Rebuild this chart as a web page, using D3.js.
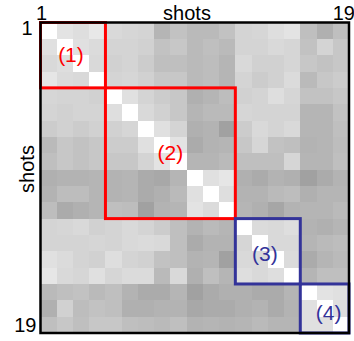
<!DOCTYPE html>
<html>
<head>
<meta charset="utf-8">
<script src="https://cdn.jsdelivr.net/npm/d3@7"></script>
<style>
  html, body { margin: 0; padding: 0; background: #fff; }
  svg { display: block; font-family: "Liberation Sans", Arial, sans-serif; }
</style>
</head>
<body>
<svg id="chart" width="354" height="341"></svg>
<script>
// shot indices on both axes
const shots = d3.range(1, 20);
const tickLabels = ["1", "19"];
const axisTitle = "shots";

// shot-to-shot similarity (percent), row = shot i, column = shot j
const similarity = [
  [100, 89, 87, 91, 85, 84, 83, 71, 76, 73, 73, 76, 83, 84, 87, 89, 75, 69, 75],
  [88, 100, 88, 86, 83, 83, 82, 76, 78, 73, 75, 73, 83, 83, 85, 84, 76, 83, 78],
  [85, 87, 100, 85, 82, 83, 80, 75, 75, 73, 74, 71, 85, 82, 82, 84, 78, 76, 78],
  [90, 86, 85, 100, 83, 84, 82, 78, 78, 73, 74, 71, 83, 80, 82, 86, 73, 78, 80],
  [84, 83, 83, 82, 100, 88, 83, 80, 78, 69, 71, 74, 82, 83, 87, 84, 76, 76, 78],
  [83, 82, 83, 83, 87, 100, 85, 82, 78, 71, 73, 73, 84, 83, 83, 83, 71, 71, 76],
  [80, 82, 80, 82, 82, 84, 100, 88, 83, 69, 70, 63, 80, 85, 83, 85, 71, 71, 75],
  [73, 78, 76, 78, 80, 80, 88, 100, 89, 67, 70, 71, 78, 84, 76, 75, 70, 71, 74],
  [75, 78, 76, 78, 78, 78, 83, 89, 100, 71, 71, 73, 75, 75, 75, 84, 71, 71, 75],
  [69, 70, 70, 71, 70, 71, 67, 66, 71, 100, 88, 90, 69, 67, 70, 69, 63, 67, 70],
  [70, 74, 74, 71, 70, 71, 67, 69, 73, 88, 100, 87, 70, 70, 73, 74, 69, 71, 71],
  [74, 67, 69, 71, 75, 74, 63, 70, 71, 89, 86, 100, 71, 69, 65, 70, 71, 71, 73],
  [83, 84, 85, 82, 83, 85, 83, 80, 75, 70, 73, 71, 100, 86, 85, 87, 70, 69, 71],
  [83, 83, 83, 84, 83, 85, 86, 85, 75, 67, 70, 70, 84, 100, 85, 85, 71, 73, 74],
  [88, 86, 83, 82, 87, 83, 82, 76, 75, 70, 71, 63, 85, 85, 100, 86, 67, 71, 73],
  [90, 85, 84, 88, 84, 86, 86, 73, 85, 69, 75, 71, 87, 85, 87, 100, 71, 75, 75],
  [73, 75, 76, 73, 75, 70, 67, 67, 71, 63, 67, 69, 69, 67, 67, 71, 100, 89, 88],
  [69, 82, 74, 76, 75, 69, 69, 70, 70, 66, 67, 67, 69, 70, 67, 70, 88, 100, 87],
  [75, 78, 75, 78, 78, 75, 74, 73, 75, 70, 71, 70, 71, 73, 71, 71, 88, 88, 100]
];

// scene groups: first and last shot of each, and its label
const sceneStart = [1, 5, 13, 17];
const sceneEnd = [4, 12, 16, 19];
const sceneLabels = ["(1)", "(2)", "(3)", "(4)"];

const sceneColor = ["#ff0000", "#ff0000", "#333399", "#333399"];
const labelNudge = [[-2, 1], [0, 0], [-3, 3], [4, 5]];
const margin = {top: 22.5, right: 5, bottom: 8, left: 40.5};
const width = 354, height = 341;

const svg = d3.select("#chart");

const x = d3.scaleBand()
    .domain(shots)
    .range([margin.left, width - margin.right]);
const y = d3.scaleBand()
    .domain(shots)
    .range([margin.top, height - margin.bottom]);
const grey = d3.scaleLinear()
    .domain([0, 100])
    .range(["#000000", "#ffffff"]);

const cells = [];
similarity.forEach((row, i) => {
    row.forEach((v, j) => cells.push({row: shots[i], col: shots[j], value: v}));
});

svg.append("g")
    .attr("shape-rendering", "crispEdges")
  .selectAll("rect")
    .data(cells)
  .enter().append("rect")
    .attr("x", d => x(d.col))
    .attr("y", d => y(d.row))
    .attr("width", x.bandwidth() + 0.5)
    .attr("height", y.bandwidth() + 0.5)
    .attr("fill", d => grey(d.value));

const scenes = sceneStart.map((s, i) => ({
    start: s, end: sceneEnd[i], label: sceneLabels[i],
    color: sceneColor[i], nudge: labelNudge[i]
}));

svg.append("g")
    .selectAll("rect")
    .data(scenes)
  .enter().append("rect")
    .attr("x", d => x(d.start))
    .attr("y", d => y(d.start))
    .attr("width", d => x(d.end) + x.bandwidth() - x(d.start))
    .attr("height", d => y(d.end) + y.bandwidth() - y(d.start))
    .attr("fill", "none")
    .attr("stroke", d => d.color)
    .attr("stroke-width", 3);

svg.append("g")
    .attr("text-anchor", "middle")
    .style("font-size", "21px")
  .selectAll("text")
    .data(scenes)
  .enter().append("text")
    .attr("x", d => (x(d.start) + x(d.end) + x.bandwidth()) / 2 + d.nudge[0])
    .attr("y", d => (y(d.start) + y(d.end) + y.bandwidth()) / 2 + d.nudge[1])
    .attr("dy", "0.3em")
    .attr("fill", d => d.color)
    .text(d => d.label);

// frame
svg.append("rect")
    .attr("x", margin.left)
    .attr("y", margin.top)
    .attr("width", width - margin.left - margin.right)
    .attr("height", height - margin.top - margin.bottom)
    .attr("fill", "none")
    .attr("stroke", "#000")
    .attr("stroke-width", 2.5);

const axes = svg.append("g").style("font-size", "20px").attr("fill", "#000");

// top: first and last shot, title
axes.append("text")
    .attr("x", x(shots[0]) + 1)
    .attr("y", margin.top - 3)
    .attr("text-anchor", "middle")
    .text(tickLabels[0]);
axes.append("text")
    .attr("x", width + 1)
    .attr("y", margin.top - 3)
    .attr("text-anchor", "end")
    .text(tickLabels[1]);
axes.append("text")
    .attr("x", 187)
    .attr("y", margin.top - 3)
    .attr("text-anchor", "middle")
    .text(axisTitle);

// left: first and last shot, title
axes.append("text")
    .attr("x", margin.left - 8)
    .attr("y", y(shots[0]) + 12.5)
    .attr("text-anchor", "end")
    .text(tickLabels[0]);
axes.append("text")
    .attr("x", margin.left - 4)
    .attr("y", height - margin.bottom - 1)
    .attr("text-anchor", "end")
    .text(tickLabels[1]);
axes.append("text")
    .attr("transform", `translate(${margin.left - 7},169) rotate(-90)`)
    .attr("text-anchor", "middle")
    .text(axisTitle);
</script>
</body>
</html>
